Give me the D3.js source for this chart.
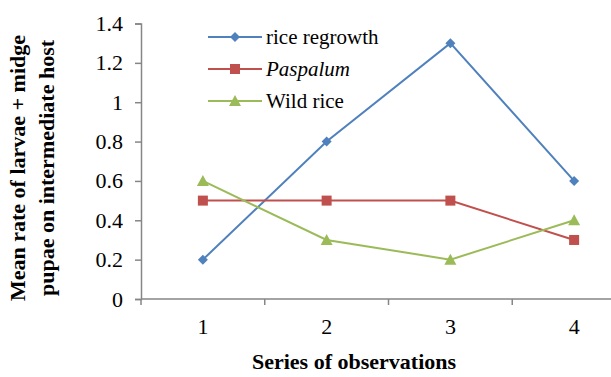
<!DOCTYPE html>
<html>
<head>
<script src="https://d3js.org/d3.v7.min.js"></script>
<style>
  body { margin: 0; background: #fff; }
</style>
</head>
<body>
<svg id="chart" width="611" height="377" font-family="Liberation Serif"></svg>
<script>
// data
var observations = ["1", "2", "3", "4"];
var riceRegrowth = [0.2, 0.8, 1.3, 0.6];
var paspalum = [0.5, 0.5, 0.5, 0.3];
var wildRice = [0.6, 0.3, 0.2, 0.4];
var yTicks = [0, 0.2, 0.4, 0.6, 0.8, 1, 1.2, 1.4];

var series = [
  { name: "rice regrowth", values: riceRegrowth, color: "#4F81BD", marker: "diamond", italic: false },
  { name: "Paspalum", values: paspalum, color: "#C0504D", marker: "square", italic: true },
  { name: "Wild rice", values: wildRice, color: "#9BBB59", marker: "triangle", italic: false }
];

var FONT = "Liberation Serif";
var svg = d3.select("#chart");
var axisColor = "#868686";

var x = d3.scaleBand().domain(observations).range([141, 636]);
var y = d3.scaleLinear().domain([0, 1.4]).range([299, 23.5]);

// y axis
var yAxis = svg.append("g").attr("transform", "translate(141,0)")
  .call(d3.axisLeft(y).tickValues(yTicks).tickSize(6).tickPadding(12)
    .tickFormat(function(d) { return d3.format("")(+d.toFixed(1)); }));
yAxis.attr("font-family", FONT).attr("font-size", 22);
yAxis.selectAll("path, line").attr("stroke", axisColor).attr("stroke-width", 1.5);
yAxis.selectAll("text").attr("fill", "#000");

// x axis
var xAxis = svg.append("g").attr("transform", "translate(0,299)");
xAxis.append("line").attr("x1", 141).attr("x2", 611).attr("stroke", axisColor).attr("stroke-width", 1.5);
var xTickPos = observations.map(function(d) { return x(d); });
xAxis.selectAll("line.tk").data(xTickPos).enter().append("line")
  .attr("class", "tk").attr("x1", function(d) { return d; }).attr("x2", function(d) { return d; })
  .attr("y1", 0).attr("y2", 6).attr("stroke", axisColor).attr("stroke-width", 1.5);
xAxis.selectAll("text").data(observations).enter().append("text")
  .attr("x", function(d) { return x(d) + x.bandwidth() / 2; })
  .attr("y", 35).attr("text-anchor", "middle").attr("font-family", FONT).attr("font-size", 22)
  .text(function(d) { return d; });

// lines + markers
var line = d3.line()
  .x(function(d, i) { return x(observations[i]) + x.bandwidth() / 2; })
  .y(function(d) { return y(d); });

function drawMarker(g, type, color) {
  if (type === "diamond") {
    g.append("path").attr("d", "M0,-5L5,0L0,5L-5,0Z").attr("fill", color);
  } else if (type === "square") {
    g.append("rect").attr("x", -5).attr("y", -5).attr("width", 10).attr("height", 10).attr("fill", color);
  } else {
    g.append("path").attr("d", "M0,-6L6,5L-6,5Z").attr("fill", color);
  }
}

series.forEach(function(s) {
  svg.append("path").datum(s.values).attr("d", line)
    .attr("fill", "none").attr("stroke", s.color).attr("stroke-width", 2);
  s.values.forEach(function(v, i) {
    var g = svg.append("g").attr("transform",
      "translate(" + (x(observations[i]) + x.bandwidth() / 2) + "," + y(v) + ")");
    drawMarker(g, s.marker, s.color);
  });
});

// legend
var legend = svg.append("g");
series.forEach(function(s, i) {
  var ly = 37 + i * 32;
  legend.append("line").attr("x1", 208).attr("x2", 262).attr("y1", ly).attr("y2", ly)
    .attr("stroke", s.color).attr("stroke-width", 2);
  var g = legend.append("g").attr("transform", "translate(235," + ly + ")");
  drawMarker(g, s.marker, s.color);
  legend.append("text").attr("x", 266).attr("y", ly + 7).attr("font-family", FONT).attr("font-size", 21)
    .attr("font-style", s.italic ? "italic" : "normal").text(s.name);
});

// axis titles
svg.append("text").attr("x", 354).attr("y", 369).attr("text-anchor", "middle")
  .attr("font-family", FONT).attr("font-size", 22).attr("font-weight", "bold").text("Series of observations");

var yTitle = svg.append("text").attr("transform", "translate(0,168) rotate(-90)")
  .attr("text-anchor", "middle").attr("font-family", FONT).attr("font-size", 22).attr("font-weight", "bold");
yTitle.append("tspan").attr("x", 0).attr("y", 25).text("Mean rate of larvae + midge");
yTitle.append("tspan").attr("x", 0).attr("y", 54).text("pupae on intermediate host");
</script>
</body>
</html>
